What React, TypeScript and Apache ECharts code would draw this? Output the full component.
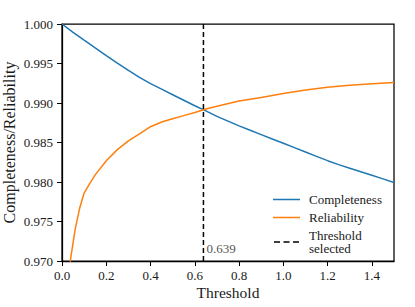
import React, { useEffect, useRef } from "react";
import * as echarts from "echarts";

const compX = [0, 0.05, 0.1, 0.15, 0.2, 0.25, 0.3, 0.35, 0.4, 0.45, 0.5, 0.55, 0.6, 0.65, 0.7, 0.75, 0.8, 0.85, 0.9, 0.95, 1.0, 1.05, 1.1, 1.15, 1.2, 1.25, 1.3, 1.35, 1.4, 1.45, 1.5];
const completeness = [1.0, 0.99895, 0.99795, 0.99697, 0.996, 0.99505, 0.99412, 0.99325, 0.99245, 0.99175, 0.99105, 0.99035, 0.98965, 0.989, 0.9883, 0.9877, 0.9871, 0.98655, 0.986, 0.98545, 0.9849, 0.98435, 0.9838, 0.98325, 0.9827, 0.9822, 0.98175, 0.9813, 0.98085, 0.9804, 0.97994];

const relX = [0.02, 0.03, 0.04, 0.06, 0.08, 0.1, 0.125, 0.15, 0.2, 0.25, 0.3, 0.35, 0.4, 0.45, 0.5, 0.55, 0.6, 0.65, 0.7, 0.8, 0.9, 1.0, 1.1, 1.2, 1.3, 1.4, 1.5];
const reliability = [0.966, 0.9683, 0.9705, 0.9741, 0.9767, 0.9786, 0.9798, 0.9809, 0.9827, 0.9841, 0.9852, 0.9861, 0.987, 0.9876, 0.988, 0.9884, 0.9888, 0.98925, 0.9896, 0.99025, 0.9907, 0.9912, 0.99165, 0.992, 0.99225, 0.99245, 0.99261];

const threshold = 0.639;
const xTicks = [0, 0.2, 0.4, 0.6, 0.8, 1.0, 1.2, 1.4];
const yTicks = [0.97, 0.975, 0.98, 0.985, 0.99, 0.995, 1.0];

const FONT = "'Liberation Serif', 'Times New Roman', serif";
const SOLID = "path://M0,0h27v1.5h-27z";
const DASHED = "path://M0,0h6v1.5h-6z M9.5,0h6v1.5h-6z M19,0h6v1.5h-6z";

export default function App() {
  const ref = useRef<HTMLDivElement>(null);
  useEffect(() => {
    const chart = echarts.init(ref.current!, null, { renderer: "svg" });
    const tick = (size: number) => ({ fontFamily: FONT, fontSize: size, fontWeight: "normal", fontStyle: "normal", color: "#1a1a1a" });
    chart.setOption({
      animation: false,
      textStyle: { fontFamily: FONT },
      grid: {
        left: 62, top: 24, right: 21, bottom: 46,
        outerBoundsMode: "none",
        show: true, borderColor: "#000", borderWidth: 1.25, backgroundColor: "transparent",
      },
      xAxis: {
        type: "value", min: 0, max: 1.5, interval: 0.2,
        name: "Threshold", nameLocation: "middle", nameGap: 23, nameMoveOverlap: false,
        nameTextStyle: tick(15.5),
        axisLine: { show: true, lineStyle: { color: "#000", width: 1.25 } },
        axisTick: { show: true, length: 5, inside: false, customValues: xTicks, lineStyle: { color: "#000", width: 1 } },
        axisLabel: { customValues: xTicks, ...tick(13), margin: 8, formatter: (v: number) => v.toFixed(1) },
        splitLine: { show: false },
      },
      yAxis: {
        type: "value", min: 0.97, max: 1.0, interval: 0.005,
        name: "Completeness/Reliability", nameLocation: "middle", nameGap: 45, nameMoveOverlap: false,
        nameTextStyle: tick(16),
        axisLine: { show: true, lineStyle: { color: "#000", width: 1.25 } },
        axisTick: { show: true, length: 5, inside: false, customValues: yTicks, lineStyle: { color: "#000", width: 1 } },
        axisLabel: { customValues: yTicks, ...tick(13), margin: 9, formatter: (v: number) => v.toFixed(3) },
        splitLine: { show: false },
      },
      legend: {
        orient: "vertical", left: 268, top: 188,
        itemWidth: 27, itemHeight: 1.5, itemGap: 5,
        textStyle: { ...tick(13), lineHeight: 13, padding: [0, 0, 0, 4] },
        data: [
          { name: "Completeness", icon: SOLID },
          { name: "Reliability", icon: SOLID },
          { name: "Threshold\nselected", icon: DASHED },
        ],
      },
      series: [
        {
          name: "Completeness", type: "line", symbol: "none",
          data: compX.map((x, i) => [x, completeness[i]]),
          lineStyle: { color: "#1f77b4", width: 1.5 }, itemStyle: { color: "#1f77b4" },
        },
        {
          name: "Reliability", type: "line", symbol: "none",
          data: relX.map((x, i) => [x, reliability[i]]),
          lineStyle: { color: "#ff7f0e", width: 1.5 }, itemStyle: { color: "#ff7f0e" },
        },
        {
          name: "Threshold\nselected", type: "line", symbol: "none",
          data: [[threshold, 0.97], [threshold, 1.0]],
          lineStyle: { color: "#000", width: 1.5, type: [5, 3] }, itemStyle: { color: "#000" },
        },
        {
          type: "scatter", symbolSize: 0, silent: true,
          data: [[threshold, 0.9716]],
          label: {
            show: true, position: "right", distance: 3,
            formatter: threshold.toFixed(3),
            ...tick(13),
          },
        },
      ],
    });
    return () => chart.dispose();
  }, []);
  return <div ref={ref} style={{ width: 415, height: 307, position: "absolute", left: 0, top: 0 }} />;
}
